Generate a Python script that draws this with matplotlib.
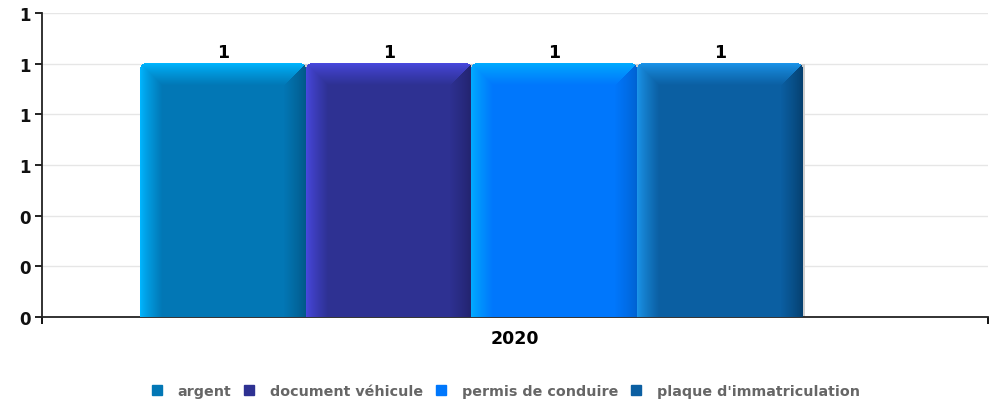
import numpy as np
import matplotlib
matplotlib.use('Agg')
import matplotlib.pyplot as plt
from matplotlib.patches import Rectangle

# données
categories = ['2020']
series = ['argent', 'document véhicule', 'permis de conduire', "plaque d'immatriculation"]
values = [1, 1, 1, 1]
y_ticks = [0, 0.2, 0.4, 0.6, 0.8, 1.0, 1.2]

# couleurs : base, clair (haut/gauche), foncé (droite)
base_colors = ['#0277b5', '#2e3192', '#0077fc', '#0b5fa2']
light_colors = ['#00b6ff', '#4848de', '#00acff', '#1b94ea']
dark_colors = ['#025888', '#22236c', '#0062d2', '#053f6e']

bar_width = 0.175
group_start = -0.396


def hex_rgb(c):
    c = c.lstrip('#')
    return np.array([int(c[i:i + 2], 16) / 255 for i in (0, 2, 4)])


def bevel_image(w, h, base, light, dark, b=22, r=5):
    base, light, dark = hex_rgb(base), hex_rgb(light), hex_rgb(dark)
    img = np.zeros((h, w, 4))
    img[..., :3] = base
    img[..., 3] = 1
    xs = np.arange(w)[None, :].repeat(h, 0).astype(float)
    ys = np.arange(h)[:, None].repeat(w, 1).astype(float)
    dl = xs
    dr = w - 1 - xs
    dt = ys
    top = (dt < b) & (dt <= dl) & (dt <= dr)
    left = (~top) & (dl < b) & (dl <= dr)
    right = (~top) & (~left) & (dr < b)
    for mask, d, col in ((top, dt, light), (left, dl, light), (right, dr, dark)):
        t = (d[mask] / b)[:, None] ** 0.8
        img[mask, :3] = col * (1 - t) + base * t
    # coins arrondis en haut
    for cx in (r, w - 1 - r):
        side = (xs < r) if cx == r else (xs > w - 1 - r)
        dist = np.sqrt((xs - cx) ** 2 + (ys - r) ** 2)
        img[side & (ys < r) & (dist > r + 0.3), 3] = 0
    return img


fig = plt.figure(figsize=(9.94, 4.06), dpi=100)
ax = fig.add_axes([42 / 994, 88 / 406, 946 / 994, 304 / 406])

ax.set_xlim(-0.5, 0.5)
ax.set_ylim(0, 1.2)

x0 = np.arange(len(categories))
for i, name in enumerate(series):
    xpos = x0 + group_start + bar_width * (i + 0.5)
    bars = ax.bar(xpos, values[i], width=bar_width, color=base_colors[i],
                  label=name, zorder=2)
    for bar in bars:
        bx, by = bar.get_x(), bar.get_y()
        bw, bh = bar.get_width(), bar.get_height()
        p0 = ax.transData.transform((bx, by))
        p1 = ax.transData.transform((bx + bw, by + bh))
        wpx = int(round(p1[0] - p0[0]))
        hpx = int(round(p1[1] - p0[1]))
        # petite ombre grise à droite
        sh = 2 * (bw / wpx)
        ax.add_patch(Rectangle((bx + sh, by), bw, bh - sh, color='#cfcfcf', zorder=2.5,
                               linewidth=0))
        img = bevel_image(wpx, hpx, base_colors[i], light_colors[i], dark_colors[i])
        ax.imshow(img, extent=(bx, bx + bw, by, by + bh), aspect='auto',
                  interpolation='none', zorder=3)
        bar.set_alpha(0)
        ax.annotate(str(values[i]), (bx + bw / 2, by + bh), xytext=(0, 2),
                    textcoords='offset points', ha='center', va='bottom',
                    fontsize=12.5, fontweight='bold', color='black', zorder=4)

ax.set_xlim(-0.5, 0.5)
ax.set_ylim(0, 1.2)

ax.set_yticks(y_ticks)
ax.set_yticklabels(['%.0f' % v for v in y_ticks])
ax.yaxis.grid(True, color='#e6e6e6', linewidth=1, zorder=0)
ax.set_axisbelow(True)
ax.tick_params(axis='y', length=5, width=1.3, labelsize=12, pad=3, colors='#111111')
for lab in ax.get_yticklabels():
    lab.set_fontweight('bold')

ax.set_xticks([-0.5, 0.5])
ax.set_xticklabels(['', ''])
ax.set_xticks(x0, minor=True)
ax.set_xticklabels(categories, minor=True, fontsize=12.5, fontweight='bold')
ax.tick_params(axis='x', which='major', length=5, width=1.3)
ax.tick_params(axis='x', which='minor', length=0, pad=9)

for s in ('top', 'right'):
    ax.spines[s].set_visible(False)
ax.spines['left'].set_linewidth(1.3)
ax.spines['bottom'].set_linewidth(1.3)
ax.spines['left'].set_color('#222222')
ax.spines['bottom'].set_color('#222222')

handles = [Rectangle((0, 0), 1, 1, color=c) for c in base_colors]
leg = fig.legend(handles, series, loc='center', bbox_to_anchor=(506 / 994, 1 - 392 / 406),
                 ncol=4, frameon=False, handlelength=0.7, handleheight=0.7,
                 handletextpad=1.1, columnspacing=0.9,
                 prop={'family': 'DejaVu Sans', 'weight': 'bold', 'size': 10.3})
for t in leg.get_texts():
    t.set_color('#666666')

fig.savefig('out.png', dpi=100)
